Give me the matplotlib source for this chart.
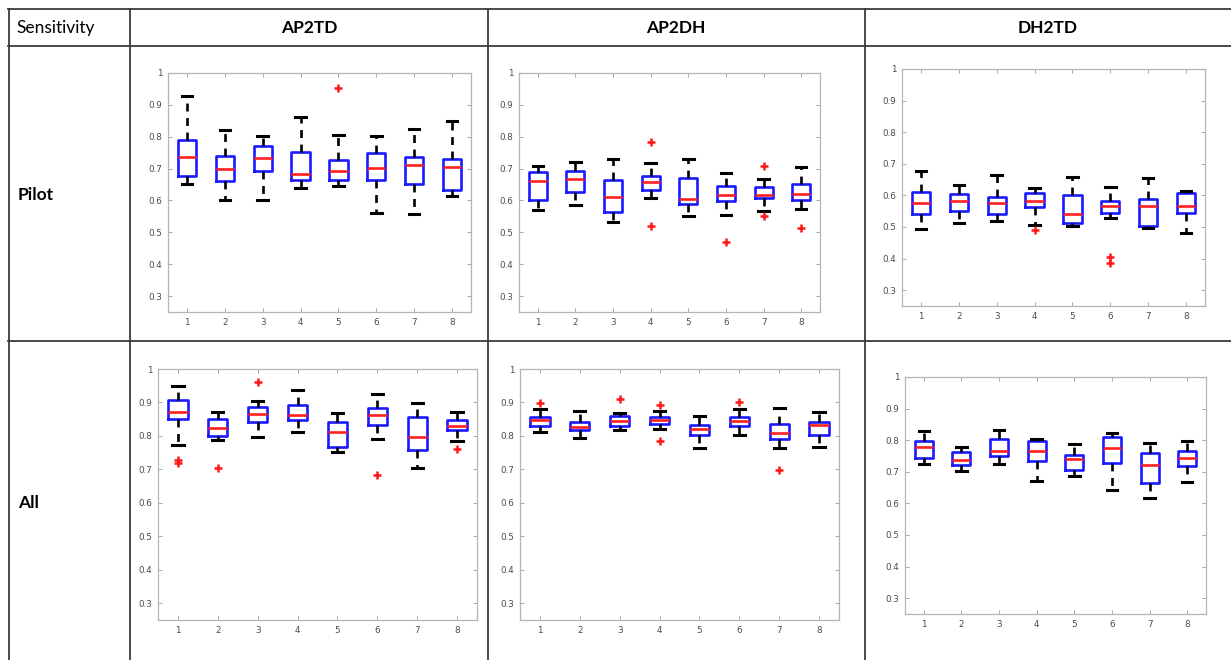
import matplotlib
matplotlib.use("Agg")
import matplotlib.pyplot as plt
from matplotlib.lines import Line2D

W, H = 1231, 660

# (whisker low, q1, median, q3, whisker high) per group 1..8
ap2td_pilot = [(0.653, 0.678, 0.735, 0.791, 0.927), (0.600, 0.660, 0.699, 0.738, 0.822),
               (0.603, 0.694, 0.733, 0.770, 0.801), (0.640, 0.663, 0.684, 0.752, 0.861),
               (0.646, 0.665, 0.694, 0.728, 0.806), (0.561, 0.665, 0.701, 0.749, 0.803),
               (0.559, 0.651, 0.711, 0.736, 0.824), (0.613, 0.632, 0.705, 0.731, 0.848)]
ap2td_pilot_out = [[], [], [], [], [0.952], [], [], []]

ap2dh_pilot = [(0.571, 0.600, 0.662, 0.688, 0.709), (0.587, 0.626, 0.667, 0.692, 0.721),
               (0.531, 0.565, 0.610, 0.663, 0.731), (0.609, 0.632, 0.659, 0.678, 0.718),
               (0.550, 0.590, 0.606, 0.669, 0.731), (0.554, 0.597, 0.617, 0.646, 0.686),
               (0.568, 0.607, 0.617, 0.642, 0.667), (0.573, 0.600, 0.620, 0.653, 0.705)]
ap2dh_pilot_out = [[], [], [], [0.783, 0.521], [], [0.470], [0.708, 0.550], [0.513]]

dh2td_pilot = [(0.493, 0.541, 0.577, 0.612, 0.677), (0.514, 0.550, 0.583, 0.604, 0.632),
               (0.520, 0.541, 0.575, 0.594, 0.666), (0.506, 0.562, 0.583, 0.607, 0.624),
               (0.503, 0.514, 0.541, 0.600, 0.657), (0.530, 0.543, 0.568, 0.583, 0.626),
               (0.496, 0.504, 0.566, 0.590, 0.655), (0.482, 0.545, 0.568, 0.609, 0.615)]
dh2td_pilot_out = [[], [], [], [0.490], [], [0.406, 0.385], [], []]

ap2td_all = [(0.772, 0.851, 0.873, 0.908, 0.950), (0.787, 0.800, 0.825, 0.851, 0.873),
             (0.797, 0.843, 0.867, 0.885, 0.905), (0.813, 0.847, 0.863, 0.892, 0.938),
             (0.751, 0.766, 0.812, 0.841, 0.870), (0.791, 0.832, 0.864, 0.882, 0.925),
             (0.704, 0.757, 0.797, 0.856, 0.898), (0.786, 0.818, 0.829, 0.847, 0.873)]
ap2td_all_out = [[0.729, 0.719], [0.704], [0.960], [], [], [0.683], [], [0.761]]

ap2dh_all = [(0.812, 0.830, 0.848, 0.857, 0.881), (0.795, 0.817, 0.826, 0.842, 0.875),
             (0.819, 0.830, 0.846, 0.860, 0.868), (0.820, 0.837, 0.848, 0.857, 0.874),
             (0.763, 0.802, 0.820, 0.832, 0.860), (0.802, 0.830, 0.846, 0.857, 0.881),
             (0.763, 0.792, 0.810, 0.837, 0.883), (0.768, 0.804, 0.832, 0.842, 0.872)]
ap2dh_all_out = [[0.898], [], [0.911], [0.893, 0.785], [], [0.901], [0.697], []]

dh2td_all = [(0.725, 0.745, 0.777, 0.799, 0.828), (0.702, 0.723, 0.737, 0.763, 0.780),
             (0.726, 0.751, 0.765, 0.804, 0.832), (0.671, 0.734, 0.765, 0.797, 0.805),
             (0.687, 0.706, 0.740, 0.753, 0.789), (0.642, 0.729, 0.774, 0.811, 0.824),
             (0.616, 0.664, 0.723, 0.761, 0.791), (0.668, 0.719, 0.743, 0.766, 0.799)]
dh2td_all_out = [[], [], [], [], [], [], [], []]

col_titles = ["AP2TD", "AP2DH", "DH2TD"]
row_titles = ["Pilot", "All"]
groups = [1, 2, 3, 4, 5, 6, 7, 8]
yticks = [0.3, 0.4, 0.5, 0.6, 0.7, 0.8, 0.9, 1]

panels = [
    (ap2td_pilot, ap2td_pilot_out, (168, 73, 471, 312)),
    (ap2dh_pilot, ap2dh_pilot_out, (519, 73, 820, 312)),
    (dh2td_pilot, dh2td_pilot_out, (902, 69, 1205, 306)),
    (ap2td_all, ap2td_all_out, (158, 369, 477, 620)),
    (ap2dh_all, ap2dh_all_out, (520, 369, 839, 620)),
    (dh2td_all, dh2td_all_out, (905, 377, 1206, 614)),
]

fig = plt.figure(figsize=(W / 100, H / 100), dpi=100)
fig.patch.set_facecolor("white")


def px(l, t, r, b):
    return [l / W, 1 - b / H, (r - l) / W, (b - t) / H]


for q, out, box in panels:
    ax = fig.add_axes(px(*box))
    stats = []
    for (lo, q1, med, q3, hi), fl in zip(q, out):
        stats.append(dict(whislo=lo, q1=q1, med=med, q3=q3, whishi=hi, fliers=fl))
    ax.bxp(stats, positions=groups, widths=0.48, capwidths=0.28, showfliers=True,
           boxprops=dict(color="#1a1aff", lw=1.9),
           medianprops=dict(color="#ff2020", lw=1.9),
           whiskerprops=dict(color="black", lw=1.9, ls=(0, (3, 2.5))),
           capprops=dict(color="black", lw=2.2),
           flierprops=dict(marker="+", markeredgecolor="#ff1a1a", markersize=5.5, mew=1.8))
    ax.set_xlim(0.5, 8.5)
    ax.set_ylim(0.25, 1)
    ax.set_xticks(groups)
    ax.set_xticklabels([str(g) for g in groups])
    ax.set_yticks(yticks)
    ax.set_yticklabels(["0.3", "0.4", "0.5", "0.6", "0.7", "0.8", "0.9", "1"])
    ax.tick_params(direction="in", length=3, width=0.6, colors="#9a9a9a",
                   labelcolor="#4a4a4a", labelsize=6.3, top=True, right=True, pad=4)
    for s in ax.spines.values():
        s.set_color("#b4b4b4")
        s.set_linewidth(0.9)

# table grid
lc = "#3c3c3c"
for y in [9, 46, 341]:
    fig.add_artist(Line2D([8 / W, 1], [1 - y / H, 1 - y / H], color=lc, lw=1.3))
for x in [9, 130, 488, 865]:
    fig.add_artist(Line2D([x / W, x / W], [1 - 9 / H, 0], color=lc, lw=1.3))

fnt = ["Lato", "DejaVu Sans"]
fig.text(16 / W, 1 - 28 / H, "Sensitivity", fontsize=12.5, family=fnt, va="center")
for x, t in zip([309, 676, 1048], col_titles):
    fig.text(x / W, 1 - 28 / H, t, fontsize=12.5, family=fnt, weight="bold",
             ha="center", va="center")
for y, t in zip([195, 503], row_titles):
    fig.text(18 / W, 1 - y / H, t, fontsize=12.5, family=fnt, weight="bold", va="center")

fig.savefig("out.png", dpi=100, facecolor="white")
